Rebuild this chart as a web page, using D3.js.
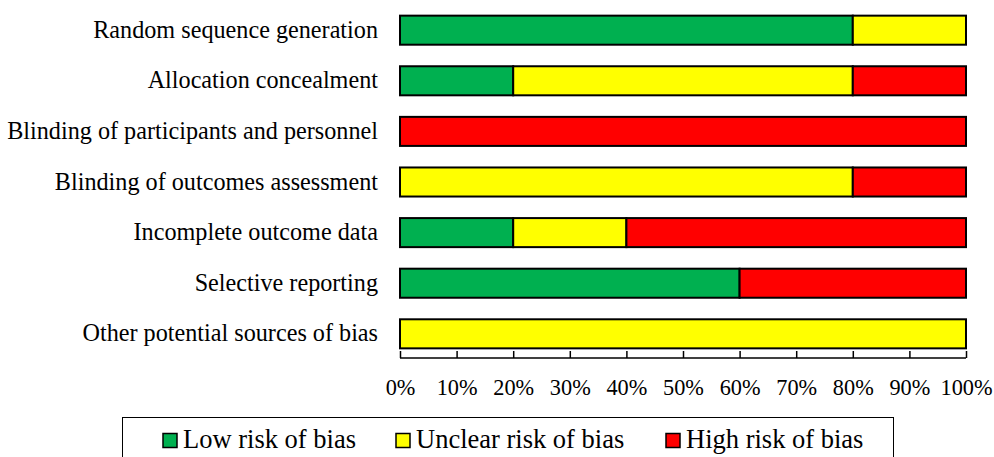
<!DOCTYPE html>
<html>
<head>
<meta charset="utf-8">
<script src="https://cdn.jsdelivr.net/npm/d3@7"></script>
<style>
  body { margin: 0; background: #fff; }
  text { font-family: "Liberation Serif", "Times New Roman", serif; fill: #000; }
</style>
</head>
<body>
<div id="chart"></div>
<script>
// domains, one entry per row (top to bottom)
var domains = ["Random sequence generation", "Allocation concealment",
  "Blinding of participants and personnel", "Blinding of outcomes assessment",
  "Incomplete outcome data", "Selective reporting", "Other potential sources of bias"];
// percent of studies in each category
var lowRisk     = [80, 20, 0, 0, 20, 60, 0];
var unclearRisk = [20, 60, 0, 80, 20, 0, 100];
var highRisk    = [0, 20, 100, 20, 60, 40, 0];
var categories = ["Low risk of bias", "Unclear risk of bias", "High risk of bias"];
var colors = ["#00b050", "#ffff00", "#ff0000"];
var tickValues = [0, 10, 20, 30, 40, 50, 60, 70, 80, 90, 100];

var width = 994, height = 457;
var svg = d3.select("#chart").append("svg")
    .attr("width", width)
    .attr("height", height);

var x = d3.scaleLinear().domain([0, 100]).range([400, 966]);
var y = d3.scaleBand().domain(domains).range([3, 361]).paddingInner(0.426).paddingOuter(0.25);

//build stacked rows
var rows = domains.map(function(d, i) {
  return { domain: d, low: lowRisk[i], unclear: unclearRisk[i], high: highRisk[i] };
});
var stack = d3.stack().keys(["low", "unclear", "high"]);
var series = stack(rows);

var g = svg.append("g");
series.forEach(function(s, k) {
  g.append("g")
    .selectAll("rect")
    .data(s.filter(function(d) { return d[1] - d[0] > 0; }))
    .enter().append("rect")
      .attr("x", function(d) { return x(d[0]); })
      .attr("y", function(d) { return y(d.data.domain); })
      .attr("width", function(d) { return x(d[1]) - x(d[0]); })
      .attr("height", y.bandwidth())
      .attr("fill", colors[k])
      .attr("stroke", "#000")
      .attr("stroke-width", 2);
});

// row labels
svg.append("g").selectAll("text")
  .data(domains)
  .enter().append("text")
    .attr("x", 378)
    .attr("y", function(d) { return y(d) + y.bandwidth() / 2 + 7.5; })
    .attr("text-anchor", "end")
    .attr("font-size", "24.2px")
    .text(function(d) { return d; });

// x axis
var axis = d3.axisBottom(x).tickValues(tickValues).tickSize(-7).tickFormat(function(d) { return d + "%"; });
var ax = svg.append("g").attr("transform", "translate(0,358)").call(axis);
ax.select(".domain").attr("stroke", "#000").attr("stroke-width", 1.5).attr("d", "M400,0H966");
ax.selectAll(".tick line").attr("stroke", "#000").attr("stroke-width", 1.5);
ax.selectAll(".tick text")
  .attr("y", 37)
  .attr("dy", 0)
  .attr("font-size", "22.3px")
  .attr("font-family", "Liberation Serif, Times New Roman, serif");

// legend
var legend = svg.append("g");
legend.append("rect")
  .attr("x", 122.5).attr("y", 417.5)
  .attr("width", 771).attr("height", 60)
  .attr("fill", "none").attr("stroke", "#000").attr("stroke-width", 1);
var legendX = [163, 396, 666];
categories.forEach(function(c, i) {
  legend.append("rect")
    .attr("x", legendX[i]).attr("y", 433.5)
    .attr("width", 14).attr("height", 14)
    .attr("fill", colors[i]).attr("stroke", "#000").attr("stroke-width", 1.5);
  legend.append("text")
    .attr("x", legendX[i] + 20).attr("y", 448)
    .attr("font-size", "26.5px")
    .text(c);
});
</script>
</body>
</html>
